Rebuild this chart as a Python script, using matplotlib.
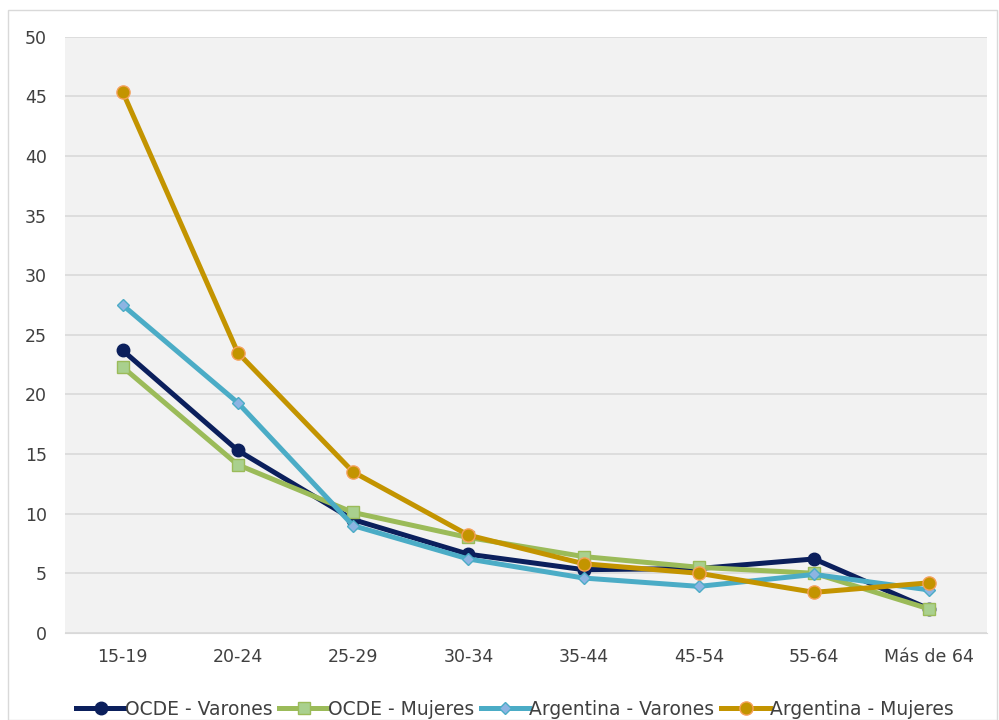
import matplotlib
matplotlib.use("Agg")
import matplotlib.pyplot as plt
from matplotlib.patches import Rectangle

# age groups and rates per group
grupos = ["15-19", "20-24", "25-29", "30-34", "35-44", "45-54", "55-64", "Más de 64"]
ocde_varones = [23.7, 15.3, 9.5, 6.6, 5.3, 5.4, 6.2, 2.0]
ocde_mujeres = [22.3, 14.1, 10.1, 8.0, 6.4, 5.5, 5.0, 2.0]
arg_varones = [27.5, 19.3, 9.0, 6.2, 4.6, 3.9, 4.9, 3.6]
arg_mujeres = [45.4, 23.5, 13.5, 8.2, 5.8, 5.0, 3.4, 4.2]

TXT = "#404040"
plt.rcParams['font.family'] = ['DejaVu Sans']

fig = plt.figure(figsize=(9.99, 7.2), dpi=100)
fig.patches.append(Rectangle((0.008, 0.0), 0.990, 0.986, transform=fig.transFigure,
                             fill=False, edgecolor="#d9d9d9", linewidth=1))
ax = fig.add_axes([0.065, 0.121, 0.923, 0.828])
ax.set_facecolor("#f2f2f2")

x = list(range(len(grupos)))
series = [
    ("OCDE - Varones", ocde_varones, "#0b1f5c", "o", "#0b1f5c", "#0b1f5c", 9),
    ("OCDE - Mujeres", ocde_mujeres, "#9bbb59", "s", "#a9d08e", "#9bbb59", 9),
    ("Argentina - Varones", arg_varones, "#4bacc6", "D", "#8db4e2", "#4bacc6", 6.5),
    ("Argentina - Mujeres", arg_mujeres, "#c39400", "o", "#c39400", "#f5a05a", 9.5),
]
for lab, vals, col, mk, mfc, mec, ms in series:
    ax.plot(x, vals, color=col, linewidth=3.6, marker=mk, markersize=ms,
            markerfacecolor=mfc, markeredgecolor=mec, markeredgewidth=1, label=lab)

ax.set_xlim(-0.5, len(grupos) - 0.5)
ax.set_ylim(0, 50)
ax.set_yticks(range(0, 51, 5))
ax.set_xticks(x)
ax.set_xticklabels(grupos)
ax.yaxis.grid(True, color="#d9d9d9", linewidth=1.2)
ax.set_axisbelow(True)
for s in ["top", "right", "left"]:
    ax.spines[s].set_visible(False)
ax.spines["bottom"].set_color("#d9d9d9")
ax.tick_params(axis="both", length=0, labelsize=12.5, colors=TXT)
ax.tick_params(axis="y", pad=13)
ax.tick_params(axis="x", pad=11)

ax.legend(loc="center", bbox_to_anchor=(0.488, -0.128), ncol=4, frameon=False,
          fontsize=13.5, handlelength=2.6, handletextpad=0.0, columnspacing=0.35,
          labelcolor=TXT)

fig.savefig("out.png", dpi=100)
